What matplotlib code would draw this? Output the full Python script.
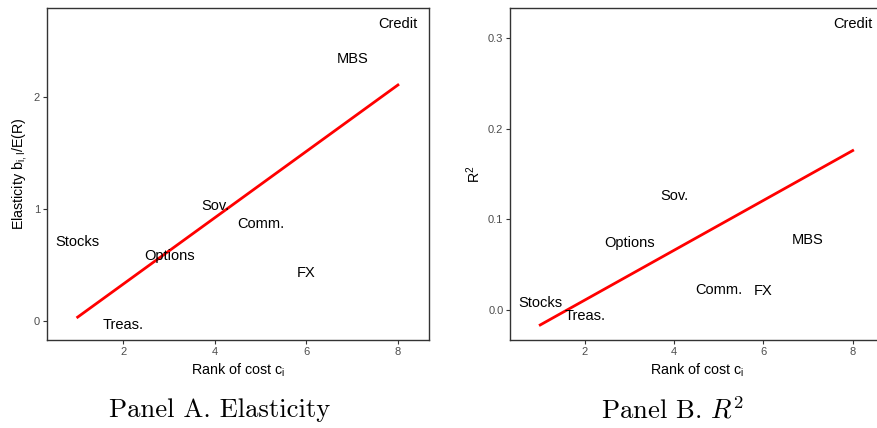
import numpy as np
import matplotlib.pyplot as plt

plt.rcParams['font.family'] = ['Liberation Sans', 'DejaVu Sans']

# data
assets = ['Stocks', 'Treas.', 'Options', 'Sov.', 'Comm.', 'FX', 'MBS', 'Credit']
rank = np.array([1, 2, 3, 4, 5, 6, 7, 8])
elasticity = np.array([0.71, -0.036, 0.58, 1.03, 0.87, 0.43, 2.34, 2.66])
r2 = np.array([0.0084, -0.0063, 0.0744, 0.1257, 0.0223, 0.0216, 0.0773, 0.315])

fig = plt.figure(figsize=(8.77, 4.28), dpi=100)
ax1 = fig.add_axes([0.0536, 0.2056, 0.4356, 0.7757])
ax2 = fig.add_axes([0.5819, 0.2056, 0.425, 0.7757])


def panel(ax, y, ylim, yticks, yfmt, ylabel):
    for name, xi, yi in zip(assets, rank, y):
        ax.text(xi, yi, name, ha='center', va='center', fontsize=10.5, color='black')
    # fitted line (OLS)
    b, a = np.polyfit(rank, y, 1)
    xs = np.array([rank.min(), rank.max()])
    ax.plot(xs, a + b * xs, color='red', lw=2)
    ax.set_xlim(0.33, 8.68)
    ax.set_ylim(*ylim)
    ax.set_xticks([2, 4, 6, 8])
    ax.set_yticks(yticks)
    ax.set_yticklabels([yfmt.format(t) for t in yticks])
    ax.tick_params(length=3, width=0.8, color='#333333', labelcolor='#4D4D4D',
                   labelsize=8, pad=2)
    for s in ax.spines.values():
        s.set_color('#333333')
        s.set_linewidth(1.0)
    ax.set_xlabel(r'Rank of cost $\mathregular{c_i}$', fontsize=10.3, labelpad=3)
    ax.set_ylabel(ylabel, fontsize=10.3, labelpad=3.5)


panel(ax1, elasticity, (-0.17, 2.80), [0, 1, 2], '{:g}',
      r'Elasticity $\mathregular{b_{i,I}}$/E(R)')
panel(ax2, r2, (-0.0327, 0.3326), [0.0, 0.1, 0.2, 0.3], '{:.1f}',
      r'$\mathregular{R^2}$')

fig.text(220 / 877, 1 - 410 / 428, 'Panel A. Elasticity', ha='center', va='center',
         fontsize=19.2, family='cmr10')
fig.text(673 / 877, 1 - 410 / 428, r'Panel B. $R^2$', ha='center', va='center',
         fontsize=19.2, family='cmr10', math_fontfamily='cm')

fig.savefig('out.png', dpi=100)
